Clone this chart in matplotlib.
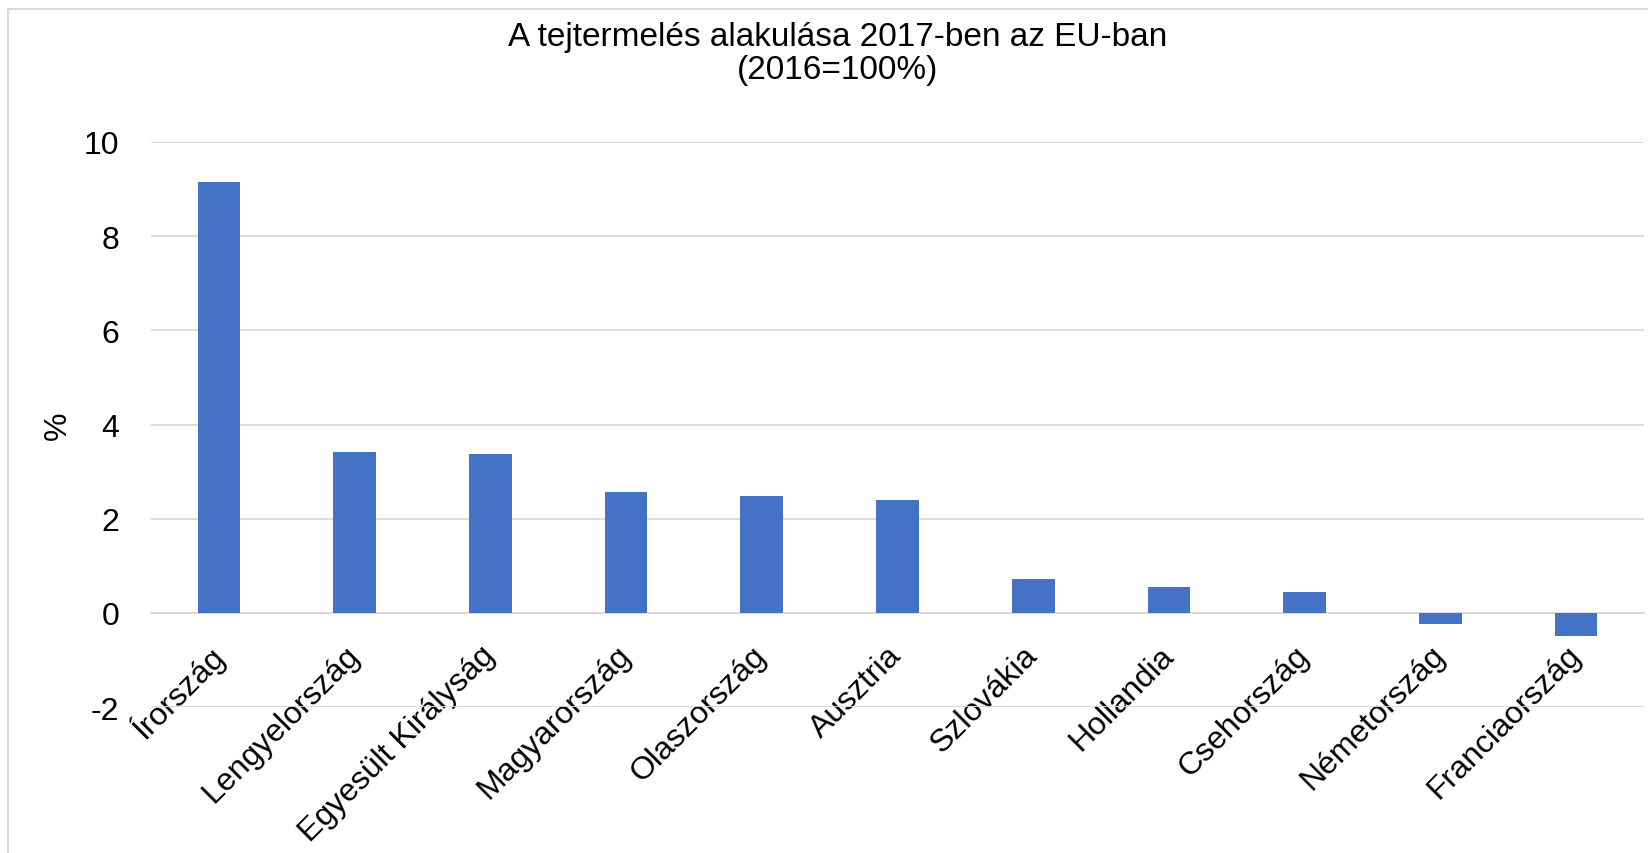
import numpy as np
import matplotlib.pyplot as plt
from matplotlib.patches import Rectangle

plt.rcParams['font.family'] = ['Liberation Sans', 'DejaVu Sans']

# adatok (2016=100%, változás %-ban)
orszagok = ["Írország", "Lengyelország", "Egyesült Királyság", "Magyarország",
            "Olaszország", "Ausztria", "Szlovákia", "Hollandia", "Csehország",
            "Németország", "Franciaország"]
valtozas = [9.14, 3.41, 3.38, 2.56, 2.48, 2.40, 0.71, 0.55, 0.44, -0.24, -0.49]
yticks = [-2, 0, 2, 4, 6, 8, 10]

fig = plt.figure(figsize=(16.48, 8.54), dpi=100)
ax = fig.add_axes([151/1648, 1-708/854, (1644-151)/1648, (708-143)/854])

x = np.arange(len(orszagok))
ax.bar(x, valtozas, width=0.314, color='#4472C4', zorder=3)

ax.set_xlim(-0.5, len(orszagok)-0.5)
ax.set_ylim(-2, 10)
ax.set_yticks(yticks)
ax.set_yticklabels([str(t) for t in yticks], fontsize=23)
ax.yaxis.grid(True, color='#d9d9d9', linewidth=1.3, zorder=0)
ax.set_axisbelow(True)

# a kategória tengely a 0-nál van
for s in ['left', 'right', 'top']:
    ax.spines[s].set_visible(False)
ax.spines['bottom'].set_position(('data', 0))
ax.spines['bottom'].set_color('#d9d9d9')
ax.spines['bottom'].set_linewidth(1.3)

ax.set_xticks(x)
ax.set_xticklabels(orszagok, fontsize=23, rotation=45, ha='right', va='center',
                   rotation_mode='anchor')
ax.tick_params(axis='x', length=0, pad=27)
ax.tick_params(axis='y', length=0, pad=23)

ax.set_ylabel('%', fontsize=23, labelpad=8)

fig.suptitle('A tejtermelés alakulása 2017-ben az EU-ban\n(2016=100%)',
             fontsize=24, x=838/1648, y=1-22/854, va='top', linespacing=1.1)

# keret
fig.add_artist(Rectangle((8/1648, -0.1), 1.2, 1.1 - 10/854, transform=fig.transFigure,
                         fill=False, edgecolor='#d9d9d9', linewidth=1.5))

plt.savefig('out.png', dpi=100)
